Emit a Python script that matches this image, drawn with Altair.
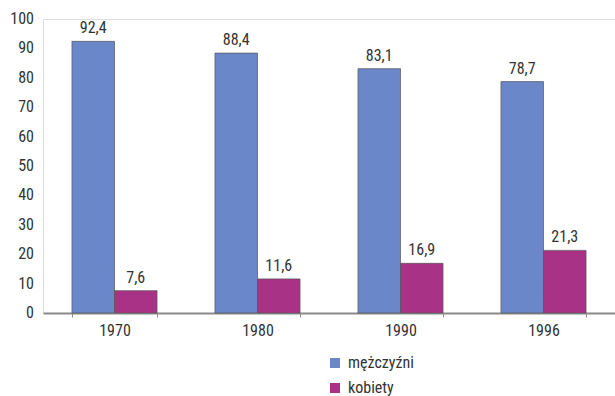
import altair as alt
import pandas as pd

# Share of men and women (in %) by census year
years = ["1970", "1980", "1990", "1996"]
men = [92.4, 88.4, 83.1, 78.7]
women = [7.6, 11.6, 16.9, 21.3]
groups = ["mężczyźni", "kobiety"]
colors = ["#6a87c9", "#a83386"]
y_ticks = list(range(0, 101, 10))

rows = []
for yr, m, w in zip(years, men, women):
    rows.append({"rok": yr, "plec": groups[0], "v": m})
    rows.append({"rok": yr, "plec": groups[1], "v": w})
df = pd.DataFrame(rows)
ticks_df = pd.DataFrame({"t": y_ticks})

FONT = "Roboto Condensed"
FS = 16
TXT = "#333333"
AX = "#8a8a8a"

yscale = alt.Scale(domain=[0, 100], nice=False)

base = alt.Chart(df).encode(
    x=alt.X(
        "rok:N",
        sort=years,
        scale=alt.Scale(paddingInner=0.405, paddingOuter=0.2025),
        axis=alt.Axis(
            title=None, labelAngle=0, tickBand="extent", tickSize=4,
            labelPadding=5, domainColor=AX, domainWidth=2, tickColor=AX,
            labelFont=FONT, labelFontSize=FS, labelFontWeight="normal",
            labelColor=TXT,
        ),
    ),
    xOffset=alt.XOffset("plec:N", sort=groups),
    y=alt.Y(
        "v:Q",
        scale=yscale,
        axis=alt.Axis(
            title=None, values=y_ticks, grid=False, tickSize=4, labels=False,
            domainColor=AX, domainWidth=2, tickColor=AX,
        ),
    ),
)

bars = base.mark_bar(stroke="#555555", strokeWidth=1, strokeOpacity=0.7).encode(
    color=alt.Color(
        "plec:N",
        sort=groups,
        scale=alt.Scale(domain=groups, range=colors),
        legend=alt.Legend(
            title=None, orient="none", legendX=284, legendY=336,
            symbolType="square", symbolSize=100, symbolStrokeWidth=0,
            labelFont=FONT, labelFontSize=FS, labelFontWeight="normal",
            labelColor=TXT, rowPadding=9, labelOffset=5,
        ),
    ),
)

labels = base.transform_calculate(
    lab="replace(format(datum.v, '.1f'), '.', ',')"
).mark_text(
    baseline="bottom", dy=-5, font=FONT, fontSize=FS, fontWeight="normal",
    color=TXT,
).encode(
    text="lab:N",
)

# value labels of the vertical axis, one per tick
y_labels = alt.Chart(ticks_df).mark_text(
    align="right", baseline="middle", font=FONT, fontSize=FS,
    fontWeight="normal", color=TXT,
).encode(
    x=alt.value(-9),
    y=alt.Y("t:Q", scale=yscale, axis=None),
    text=alt.Text("t:Q", format="d"),
)

chart = (
    alt.layer(bars, labels, y_labels)
    .properties(
        width=572,
        height=294,
        autosize=alt.AutoSizeParams(type="none"),
        padding={"left": 43, "top": 19, "right": 0, "bottom": 83},
    )
    .configure_view(strokeWidth=0)
    .configure(background="white")
)

chart.save("out.html", embed_options={"renderer": "svg", "actions": False})
